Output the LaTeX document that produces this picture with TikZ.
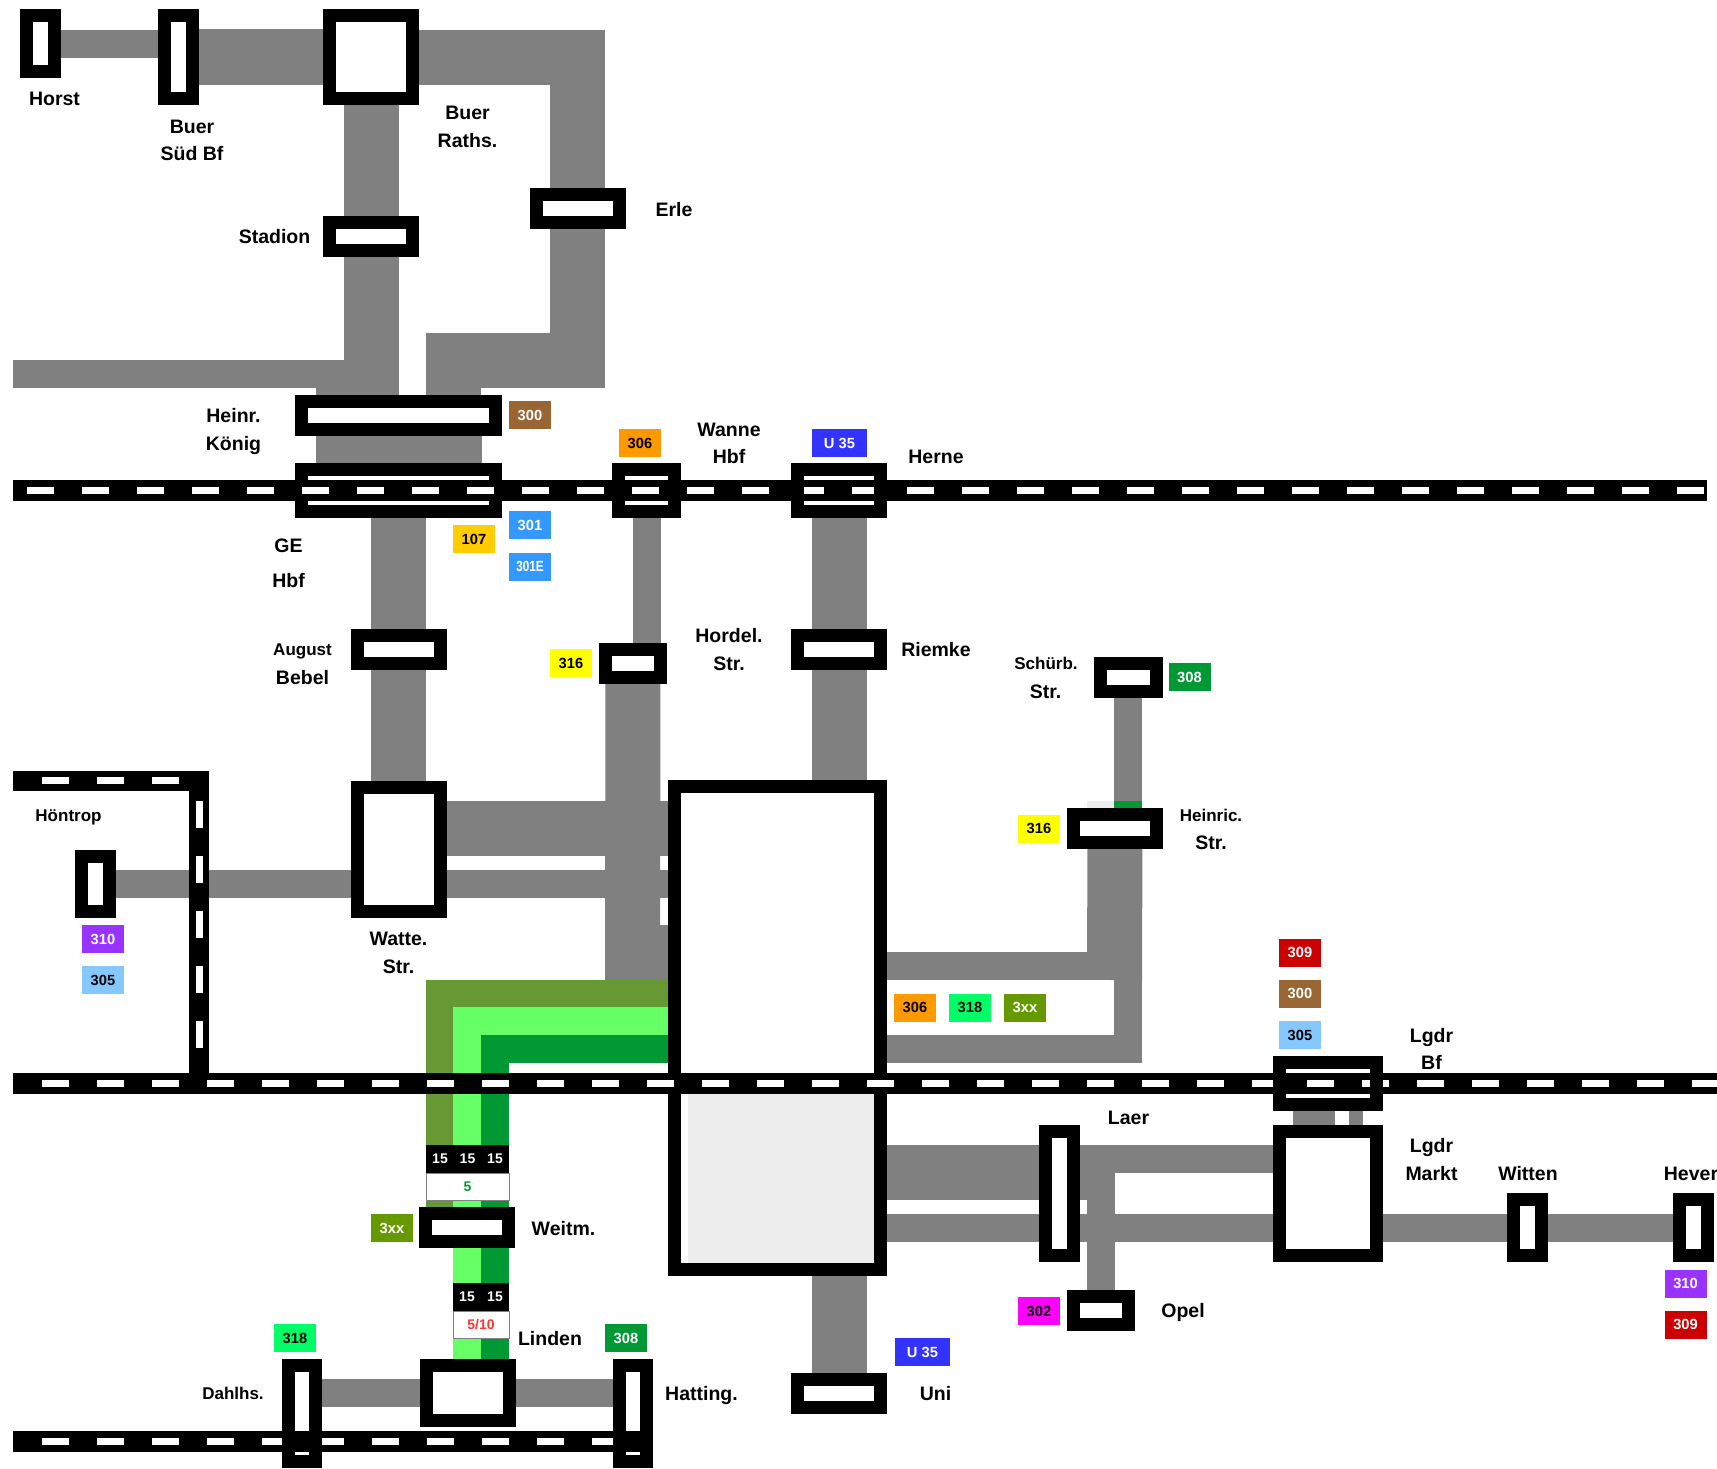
\documentclass[tikz,border=0pt]{standalone}
\usepackage{fontspec}
\setmainfont{Liberation Sans}
\usetikzlibrary{backgrounds}
\definecolor{strasse}{HTML}{808080}
\definecolor{blass}{HTML}{EDEDED}
\definecolor{braun}{HTML}{996633}
\definecolor{orange}{HTML}{FF9900}
\definecolor{ublau}{HTML}{3333FF}
\definecolor{gold}{HTML}{FFCC00}
\definecolor{mittelblau}{HTML}{3399FF}
\definecolor{hellblau}{HTML}{85C8FF}
\definecolor{gelb}{HTML}{FFFF00}
\definecolor{dunkelgruen}{HTML}{009933}
\definecolor{hellgruen}{HTML}{66FF66}
\definecolor{neongruen}{HTML}{00FF66}
\definecolor{oliv}{HTML}{669933}
\definecolor{olivtag}{HTML}{669900}
\definecolor{lila}{HTML}{9933FF}
\definecolor{rot}{HTML}{CC0000}
\definecolor{hellrot}{HTML}{FF3333}
\definecolor{magenta}{HTML}{FF00FF}
\begin{document}
\begin{tikzpicture}[x=1pt,y=-1pt]
\tikzset{halt/.style 2 args={draw=black,fill=white,line width=13pt,outer sep=0pt,inner sep=0pt,minimum width=#1pt-13pt,minimum height=#2pt-13pt}} %station box, outer size
\tikzset{haltoben/.style 2 args={halt={#1}{#2},fill=none}} %box drawn over the track
\tikzset{gleis/.style={black,line width=21pt}}
\tikzset{striche/.style={white,line width=7pt,dash pattern=on 27pt off 28pt}}
\tikzset{road/.style={strasse,line width=#1pt}}
\tikzset{schrift/.style={font=\fontsize{19.5}{20}\selectfont\bfseries,inner sep=0pt,text height=14pt,text depth=0pt}}
\tikzset{klein/.style={schrift,font=\fontsize{17}{18}\selectfont\bfseries,text height=12pt}}
\tikzset{tag/.style 2 args={fill=#1,text=#2,font=\fontsize{14.7}{15}\selectfont\bfseries,inner sep=0pt,minimum width=42pt,minimum height=28pt}}
\tikzset{takt/.style={fill=black,text=white,font=\fontsize{14}{15}\selectfont\bfseries,inner sep=0pt,minimum width=28pt,minimum height=28pt}}
\tikzset{rest/.style={fill=white,draw=strasse,line width=1pt,font=\fontsize{14}{15}\selectfont\bfseries,inner sep=0pt,minimum height=27pt}}
\useasboundingbox (0,0) rectangle (1717,1468);
%stations under the track
\node[halt={41}{69}] (horst) at (40.5,43.5) {};
\node[halt={41}{95.5}] (buersued) at (178.5,57) {};
\node[halt={96}{95.5}] (raths) at (371,57) {};
\node[halt={96}{41}] (stadion) at (371,236) {};
\node[halt={96}{41}] (erle) at (578,208.5) {};
\node[halt={207}{41}] (heinr) at (398.5,415.5) {};
\node[halt={207}{55}] (gehbf) at (398.5,490.5) {};
\node[halt={96}{41}] (august) at (398.5,649.5) {};
\node[halt={68}{41}] (hordel) at (633,663.5) {};
\node[halt={96}{41}] (riemke) at (839,649.5) {};
\node[halt={96}{137}] (watte) at (398.5,849.5) {};
\node[halt={41}{68}] (hoentrop) at (95.5,884) {};
\node[halt={219}{496}] (hbf) at (777.5,1028) {};
\node[halt={69}{41}] (schuerb) at (1128.5,677.5) {};
\node[halt={96}{41}] (heinric) at (1115,828.5) {};
\node[halt={41}{137}] (laer) at (1059.5,1193.5) {};
\node[halt={110}{137}] (markt) at (1328,1193.5) {};
\node[halt={41}{69}] (witten) at (1527.5,1227.5) {};
\node[halt={41}{69}] (hever) at (1693,1227.5) {};
\node[halt={68}{41}] (opel) at (1101,1310.5) {};
\node[halt={96}{41}] (uni) at (839,1393.5) {};
\node[halt={96}{41}] (weitm) at (467,1227.5) {};
\node[halt={96}{68}] (linden) at (468,1393) {};
\fill[blass] (688,1094) rectangle (874,1263);
%tracks
\coordinate (a1) at (13,490.5);
\coordinate (a2) at (1707,490.5);
\coordinate (a3) at (27,490.5);
\coordinate (b1) at (13,1083.5);
\coordinate (b2) at (1717,1083.5);
\coordinate (b3) at (42,1083.5);
\coordinate (c1) at (13,1441.5);
\coordinate (c2) at (640,1441.5);
\coordinate (c3) at (42,1441.5);
\coordinate (d1) at (13,780.5);
\coordinate (d2) at (199,780.5);
\coordinate (d3) at (199,1073);
\coordinate (d4) at (41.5,780.5);
\coordinate (d5) at (180,780.5);
\coordinate (d6) at (199,801);
\coordinate (d7) at (199,1050);
\draw[gleis] (a1) -- (a2);
\draw[striche] (a3) -- (a2);
\draw[gleis] (b1) -- (b2);
\draw[striche] (b3) -- (b2);
\draw[gleis] (c1) -- (c2);
\draw[striche] (c3) -- (c2);
\draw[gleis,line width=20pt] (d1) -- (d2) -- (d3);
\draw[striche] (d4) -- (d5);
\draw[striche] (d6) -- (d7);
%stations over the track
\node[haltoben={69}{55}] (wanne) at (646.5,490.5) {};
\node[haltoben={96}{55}] (herne) at (839,490.5) {};
\node[haltoben={110}{55}] (lgdrbf) at (1328,1083.5) {};
\node[haltoben={40}{109}] (dahlhs) at (302,1413.5) {};
\node[haltoben={40}{109}] (hatting) at (633,1413.5) {};
%roads
\coordinate (ke0) at (577.5,57);
\coordinate (ke1) at (577.5,360.5);
\coordinate (ke2) at (453.5,360.5);
\coordinate (kw1) at (13,374);
\coordinate (kw2) at (399,374);
\coordinate (kw3) at (357.5,388);
\coordinate (wo) at (398.5,828.5);
\coordinate (sp1) at (632.5,980);
\coordinate (sp2) at (632.5,952.5);
\coordinate (k1) at (1128,966);
\coordinate (k2) at (1128,1049);
\coordinate (k3) at (1114.5,980);
\coordinate (l1) at (1087,1172.5);
\coordinate (l2) at (1101,1159);
\coordinate (l3) at (1101,1145);
\coordinate (z1) at (1101,1228);
\coordinate (m1) at (1314,1111);
\coordinate (m2) at (1314,1125);
\coordinate (m3) at (1356,1111);
\coordinate (m4) at (1356,1125);
\coordinate (ko) at (439.5,993.5);
\coordinate (kl) at (467,1021);
\coordinate (kd) at (495,1049);
\begin{scope}[on background layer]
\draw[road=28] (horst.east) -- (buersued.west |- horst.east);
\draw[road=56] (buersued) -- (raths);
\draw[road=55] (raths) -- (ke0) -- (ke1) -- (ke2) -- (ke2 |- heinr);
\draw[road=55] (raths) -- (stadion) -- (stadion |- heinr);
\draw[road=28] (kw1) -- (kw2);
\draw[road=83] (kw3) -- (kw3 |- heinr);
\draw[road=166] (heinr) -- (gehbf);
\draw[road=55] (gehbf) -- (august) -- (watte);
\draw[road=28] (wanne.south) -- (wanne |- hordel);
\draw[road=55] (hordel) -- (sp1);
\draw[road=55] (herne.south) -- (riemke) -- (riemke |- hbf.north);
\draw[road=55] (wo) -- (wo -| hbf);
\draw[road=28] (hoentrop) -- (hoentrop -| hbf);
\draw[road=55] (sp2) -- (sp2 -| hbf);
\draw[road=28] (k1 |- schuerb) -- (k1 |- heinric);
\fill[blass] (1087,801) rectangle (1114,808);
\fill[dunkelgruen] (1114,801) rectangle (1142,808);
\draw[road=55] (heinric) -- (k3);
\draw[road=28] (k1 -| hbf) -- (k1) -- (k2) -- (k2 -| hbf);
\draw[road=55] (hbf.east |- l1) -- (l1);
\draw[road=28] (l2) -- (l2 -| markt);
\draw[road=28] (z1 -| hbf) -- (z1 -| hever);
\draw[road=28] (l3) -- (opel);
\draw[road=42] (m1) -- (m2);
\draw[road=14] (m3) -- (m4);
\draw[road=55] (uni) -- (uni |- hbf);
\draw[road=28] (dahlhs.east |- linden) -- (linden) -- (hatting.west |- linden);
\draw[oliv,line width=27pt] (hbf.west |- ko) -- (ko) -- (ko |- weitm);
\draw[hellgruen,line width=28pt] (hbf.west |- kl) -- (kl) -- (kl |- linden);
\draw[dunkelgruen,line width=28pt] (hbf.west |- kd) -- (kd) -- (kd |- linden);
\end{scope}
%headway chips
\node[takt] (ta1) at (440,1159) {15};
\node[takt] (ta2) at (467.5,1159) {15};
\node[takt] (ta3) at (495,1159) {15};
\node[rest,text=dunkelgruen,minimum width=83pt] (ra) at (467.5,1186.5) {5};
\node[takt] (tb1) at (467,1297) {15};
\node[takt] (tb2) at (495,1297) {15};
\node[rest,text=hellrot,minimum width=56pt] (rb) at (481,1324.5) {5/10};
%line tags
\node[tag={braun}{white}] (t300) at (530,415) {300};
\node[tag={mittelblau}{white}] (t301) at (530,525) {301};
\node[tag={gold}{black}] (t107) at (474,539) {107};
\node[tag={mittelblau}{white}] (t301e) at (530,566.5) {\scalebox{0.8}[1]{301E}};
\node[tag={orange}{black}] (t306) at (640,443) {306};
\node[tag={ublau}{white},minimum width=55pt] (tu35) at (839.5,443) {U 35};
\node[tag={gelb}{black}] (t316) at (571,663) {316};
\node[tag={dunkelgruen}{white}] (t308) at (1189.5,677) {308};
\node[tag={gelb}{black}] (t316b) at (1039,828.5) {316};
\node[tag={orange}{black}] (t306b) at (915,1007.5) {306};
\node[tag={neongruen}{black}] (t318b) at (970,1007.5) {318};
\node[tag={olivtag}{white}] (t3xxb) at (1025,1007.5) {3xx};
\node[tag={rot}{white}] (t309) at (1300,952.5) {309};
\node[tag={braun}{white}] (t300b) at (1300,993.5) {300};
\node[tag={hellblau}{black}] (t305b) at (1300,1035) {305};
\node[tag={lila}{white}] (t310) at (103,939) {310};
\node[tag={hellblau}{black}] (t305) at (103,980) {305};
\node[tag={olivtag}{white}] (t3xx) at (392,1228) {3xx};
\node[tag={neongruen}{black}] (t318) at (295,1338) {318};
\node[tag={dunkelgruen}{white}] (t308b) at (626,1338) {308};
\node[tag={magenta}{black}] (t302) at (1039,1311) {302};
\node[tag={ublau}{white},minimum width=55pt] (tu35b) at (922.5,1352) {U 35};
\node[tag={lila}{white}] (t310b) at (1685.5,1283.5) {310};
\node[tag={rot}{white}] (t309b) at (1685.5,1324.5) {309};
%names
\node[schrift] (nhorst) at (54.5,98) {Horst};
\node[schrift] (nbuer) at (192,126) {Buer};
\node[schrift] (nsued) at (192,153) {Süd Bf};
\node[schrift] (nbuer2) at (467.5,112.5) {Buer};
\node[schrift] (nraths) at (467.5,140) {Raths.};
\node[schrift] (nstadion) at (274.5,236) {Stadion};
\node[schrift] (nerle) at (674,209) {Erle};
\node[schrift] (nheinr) at (233.5,415) {Heinr.};
\node[schrift] (nkoenig) at (233.5,443) {König};
\node[schrift] (nge) at (288.5,545.5) {GE};
\node[schrift] (nhbf) at (288.5,580) {Hbf};
\node[schrift] (nwanne) at (729,429) {Wanne};
\node[schrift] (nhbf2) at (729,456.5) {Hbf};
\node[schrift] (nherne) at (936,456.5) {Herne};
\node[klein] (naugust) at (302.5,649) {August};
\node[schrift] (nbebel) at (302.5,677) {Bebel};
\node[schrift] (nhordel) at (729,635) {Hordel.};
\node[schrift] (nstr) at (729,663) {Str.};
\node[schrift] (nriemke) at (936,649) {Riemke};
\node[klein] (nschuerb) at (1046,663) {Schürb.};
\node[schrift] (nstr2) at (1045.5,691) {Str.};
\node[klein] (nheinric) at (1211,815) {Heinric.};
\node[schrift] (nstr3) at (1211,842) {Str.};
\node[klein] (nhoentrop) at (68.5,815) {Höntrop};
\node[schrift] (nwatte) at (398.5,938) {Watte.};
\node[schrift] (nstr4) at (398.5,966) {Str.};
\node[schrift] (nlgdr) at (1431.5,1035.5) {Lgdr};
\node[schrift] (nbf) at (1431.5,1062) {Bf};
\node[schrift] (nlaer) at (1128.5,1117) {Laer};
\node[schrift] (nlgdr2) at (1431.5,1145) {Lgdr};
\node[schrift] (nmarkt) at (1431.5,1173) {Markt};
\node[schrift] (nwitten) at (1528,1173) {Witten};
\node[schrift] (nhever) at (1691,1173) {Hever};
\node[schrift] (nweitm) at (563.5,1228) {Weitm.};
\node[schrift] (nlinden) at (550,1338) {Linden};
\node[schrift] (nopel) at (1183,1310.5) {Opel};
\node[schrift] (nuni) at (935.5,1393) {Uni};
\node[klein] (ndahlhs) at (233,1393) {Dahlhs.};
\node[schrift] (nhatting) at (701.5,1393) {Hatting.};
\end{tikzpicture}
\end{document}
